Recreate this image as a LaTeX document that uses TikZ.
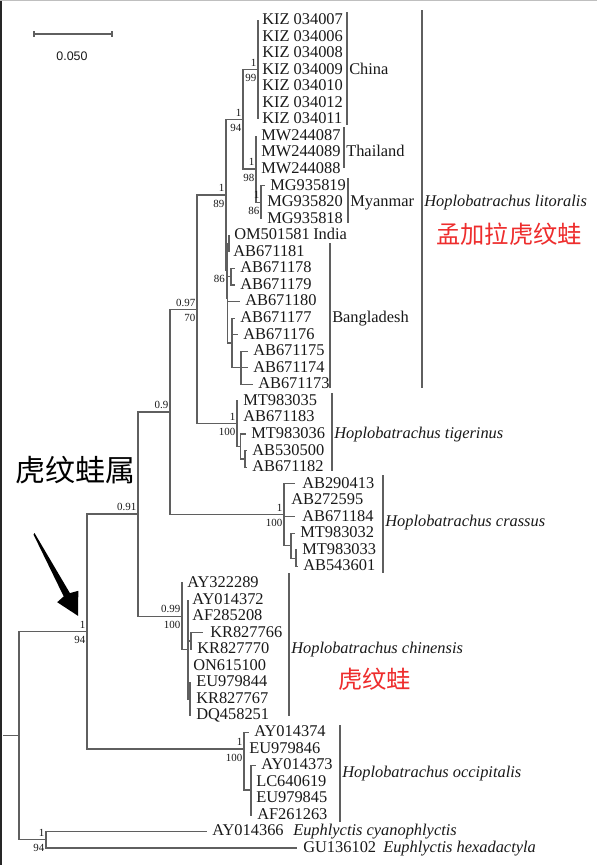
\documentclass[tikz,border=0pt]{standalone}
\usepackage{fontspec}
\setmainfont{Liberation Serif}
\newfontfamily\cjkfont{Noto Sans CJK SC}
\newfontfamily\sansf{Liberation Sans}
\definecolor{treeline}{RGB}{95,95,95}
\definecolor{txt}{RGB}{25,25,25}
\definecolor{redlab}{RGB}{238,45,45}
% leaf: name, parent, end x, text x, y, label
\newcommand\leafnode[6]{\coordinate (#1e) at (#3,#5); \draw[br] (#2) |- (#1e); \node[leaf] (#1) at (#4,#5) {#6};}
\newcommand\twosup[3]{\node[supa] (#1t) at ([shift={(-1.5,-3)}]#1) {#2}; \node[supb] (#1b) at ([shift={(-1.5,3)}]#1) {#3};}
\begin{document}
\begin{tikzpicture}[x=0.75pt,y=-0.75pt,
  br/.style={draw=treeline,line width=0.9pt},
  bracket/.style={draw=treeline,line width=0.8pt},
  leaf/.style={anchor=west,inner sep=0pt,text=txt,font=\fontsize{12.3}{14}\selectfont,text height=0.66em,text depth=0pt},
  spec/.style={leaf,font=\fontsize{12.3}{14}\selectfont\itshape},
  supa/.style={anchor=south east,inner sep=0pt,text=txt,font=\fontsize{8.2}{9}\selectfont,text height=0.66em,text depth=0pt},
  supb/.style={supa,anchor=north east},
  redcjk/.style={anchor=west,inner sep=0pt,text=redlab,font=\cjkfont\fontsize{18.2}{20}\selectfont}]
\useasboundingbox (0,0) rectangle (597,865);
\fill[white] (0,0) rectangle (597,865);
\draw[black!85,line width=1.2pt] (1,0) -- (1,865);
\draw[black!25,line width=0.6pt] (0,0.5) -- (597,0.5);

% scale bar
\draw[treeline,line width=0.9pt] (34,34) -- (112,34);
\draw[treeline,line width=0.9pt] (34,31) -- (34,37) (112,31) -- (112,37);
\node[inner sep=0pt,text=txt,font=\sansf\fontsize{9.3}{11}\selectfont] (scalelab) at (72,56) {0.050};

% internal nodes
\coordinate (kiz) at (258,69.7);
\coordinate (mm) at (261,202.2);
\coordinate (tm) at (256,169);
\coordinate (n94) at (243,119.4);
\coordinate (q) at (229,243.5);
\coordinate (s86) at (231,276.7);
\coordinate (v) at (241,367.8);
\coordinate (u) at (232,343);
\coordinate (xx) at (227.5,298);
\coordinate (p) at (227,270.7);
\coordinate (ll) at (226,195);
\coordinate (h) at (245,458.9);
\coordinate (g) at (240.5,446.4);
\coordinate (t) at (237,423.7);
\coordinate (n097) at (197,309.3);
\coordinate (f) at (296,558.2);
\coordinate (e) at (291,545.8);
\coordinate (c) at (284,514.7);
\coordinate (n09) at (170,412);
\coordinate (k) at (191,641);
\coordinate (cc) at (190,699);
\coordinate (b) at (188,649.3);
\coordinate (a) at (182,616.2);
\coordinate (n091) at (138,514);
\coordinate (d) at (251,790);
\coordinate (o) at (244,749);
\coordinate (ing) at (87,631.5);
\coordinate (eu) at (46,839.7);
\coordinate (root) at (19,735.6);
\coordinate (stub) at (3,735.6);

% leaves
\leafnode{l0}{kiz}{258}{262}{20.0}{KIZ 034007}
\leafnode{l1}{kiz}{258}{262}{36.6}{KIZ 034006}
\leafnode{l2}{kiz}{258}{262}{53.1}{KIZ 034008}
\leafnode{l3}{kiz}{258}{262}{69.7}{KIZ 034009}
\leafnode{l4}{kiz}{258}{262}{86.2}{KIZ 034010}
\leafnode{l5}{kiz}{258}{262}{102.8}{KIZ 034012}
\leafnode{l6}{kiz}{258}{262}{119.4}{KIZ 034011}
\leafnode{l7}{tm}{256}{261}{135.9}{MW244087}
\leafnode{l8}{tm}{256}{261}{152.5}{MW244089}
\leafnode{l9}{tm}{256}{261}{169.0}{MW244088}
\leafnode{l10}{mm}{265}{270}{185.6}{MG935819}
\leafnode{l11}{mm}{262}{267}{202.2}{MG935820}
\leafnode{l12}{mm}{262}{267}{218.7}{MG935818}
\leafnode{l13}{q}{230}{234}{235.3}{OM501581}
\leafnode{l14}{q}{229}{233}{251.8}{AB671181}
\leafnode{l15}{s86}{235}{240}{268.4}{AB671178}
\leafnode{l16}{s86}{235}{240}{285.0}{AB671179}
\leafnode{l17}{xx}{240}{245}{301.5}{AB671180}
\leafnode{l18}{u}{235}{240}{318.1}{AB671177}
\leafnode{l19}{u}{238}{243}{334.6}{AB671176}
\leafnode{l20}{v}{248}{253}{351.2}{AB671175}
\leafnode{l21}{v}{248}{253}{367.8}{AB671174}
\leafnode{l22}{v}{253}{258}{384.3}{AB671173}
\leafnode{l23}{t}{238}{243}{400.9}{MT983035}
\leafnode{l24}{t}{238}{243}{417.4}{AB671183}
\leafnode{l25}{g}{246}{251}{434.0}{MT983036}
\leafnode{l26}{h}{247}{252}{450.6}{AB530500}
\leafnode{l27}{h}{247}{252}{467.1}{AB671182}
\leafnode{l28}{c}{295}{302}{483.7}{AB290413}
\leafnode{l29}{c}{285}{291}{500.2}{AB272595}
\leafnode{l30}{c}{295}{302}{516.8}{AB671184}
\leafnode{l31}{e}{295}{300}{533.4}{MT983032}
\leafnode{l32}{f}{297}{302}{549.9}{MT983033}
\leafnode{l33}{f}{298}{303}{566.5}{AB543601}
\leafnode{l34}{a}{183}{187}{583.0}{AY322289}
\leafnode{l35}{b}{188}{192}{599.6}{AY014372}
\leafnode{l36}{b}{188}{192}{616.2}{AF285208}
\leafnode{l37}{k}{203}{210}{632.7}{KR827766}
\leafnode{l38}{k}{192}{197}{649.3}{KR827770}
\leafnode{l39}{b}{189}{193}{665.8}{ON615100}
\leafnode{l40}{cc}{191}{196}{682.4}{EU979844}
\leafnode{l41}{cc}{191}{196}{699.0}{KR827767}
\leafnode{l42}{cc}{191}{196}{715.5}{DQ458251}
\leafnode{l43}{o}{249}{254}{732.1}{AY014374}
\leafnode{l44}{o}{245}{249}{748.6}{EU979846}
\leafnode{l45}{d}{256}{261}{765.2}{AY014373}
\leafnode{l46}{d}{252}{256}{781.8}{LC640619}
\leafnode{l47}{d}{252}{256}{798.3}{EU979845}
\leafnode{l48}{d}{252}{257}{814.9}{AF261263}
\leafnode{l49}{eu}{207}{212}{831.4}{AY014366}
\leafnode{l50}{eu}{297}{303}{848.0}{GU136102}

% internal edges
\draw[br] (tm) |- (mm);
\draw[br] (n94) |- (kiz);
\draw[br] (n94) |- (tm);
\draw[br] (xx) |- (s86);
\draw[br] (xx) |- (u);
\draw[br] (u) |- (v);
\draw[br] (p) |- (q);
\draw[br] (p) |- (xx);
\draw[br] (ll) |- (n94);
\draw[br] (ll) |- (p);
\draw[br] (n097) |- (ll);
\draw[br] (n097) |- (t);
\draw[br] (t) |- (g);
\draw[br] (g) |- (h);
\draw[br] (n09) |- (n097);
\draw[br] (n09) |- (c);
\draw[br] (c) |- (e);
\draw[br] (e) |- (f);
\draw[br] (n091) |- (n09);
\draw[br] (n091) |- (a);
\draw[br] (a) |- (b);
\draw[br] (b) |- (k);
\draw[br] (b) |- (cc);
\draw[br] (ing) |- (n091);
\draw[br] (ing) |- (o);
\draw[br] (o) |- (d);
\draw[br] (root) |- (ing);
\draw[br] (root) |- (eu);
\draw[br] (stub) -- (root);

% support values
\twosup{kiz}{1}{99}
\twosup{n94}{1}{94}
\twosup{tm}{1}{98}
\twosup{mm}{1}{86}
\twosup{ll}{1}{89}
\node[supb] (p86) at (225,273) {86};
\twosup{n097}{0.97}{70}
\node[supa] (n09t) at ([shift={(-1.5,-3)}]n09) {0.9};
\twosup{t}{1}{100}
\twosup{c}{1}{100}
\node[supa] (n091t) at ([shift={(-1.5,-3)}]n091) {0.91};
\twosup{a}{0.99}{100}
\twosup{ing}{1}{94}
\twosup{o}{1}{100}
\twosup{eu}{1}{94}

% group brackets and labels
\draw[bracket] (347,12) -- (347,125);
\node[leaf] (china) at (349,69.7) {China};
\draw[bracket] (344,127) -- (344,168);
\node[leaf] (thai) at (346,152.5) {Thailand};
\draw[bracket] (348,178) -- (348,223);
\node[leaf] (myan) at (350,202.2) {Myanmar};
\node[leaf] (india) at (313,235.3) {India};
\draw[bracket] (330,243) -- (330,388);
\node[leaf] (bangl) at (332,318.1) {Bangladesh};
\draw[bracket] (422,10) -- (422,388);
\node[spec] (litor) at (424,202.2) {Hoplobatrachus litoralis};
\node[redcjk] (litorcn) at (436,234) {孟加拉虎纹蛙};
\draw[bracket] (332,393) -- (332,471);
\node[spec] (tiger) at (334,434) {Hoplobatrachus tigerinus};
\draw[bracket] (383,475) -- (383,573);
\node[spec] (crass) at (385,522) {Hoplobatrachus crassus};
\draw[bracket] (289,573) -- (289,716);
\node[spec] (chin) at (291,649.3) {Hoplobatrachus chinensis};
\node[redcjk] (chincn) at (338,679) {虎纹蛙};
\draw[bracket] (340,725) -- (340,822);
\node[spec] (occip) at (342,773) {Hoplobatrachus occipitalis};
\node[spec] (cyano) at (293,831.4) {Euphlyctis cyanophlyctis};
\node[spec] (hexa) at (383,848) {Euphlyctis hexadactyla};

% genus label and arrow
\node[inner sep=0pt,text=black,font=\cjkfont\fontsize{22.5}{25}\selectfont] (genus) at (76,470) {虎纹蛙属};
\fill[black] (34.5,533) -- (69.9,593.1) -- (78.3,590.8) -- (78.1,615.9) -- (57.2,602.2) -- (63.7,596.4) -- (33.5,534.5) -- cycle;
\end{tikzpicture}
\end{document}
